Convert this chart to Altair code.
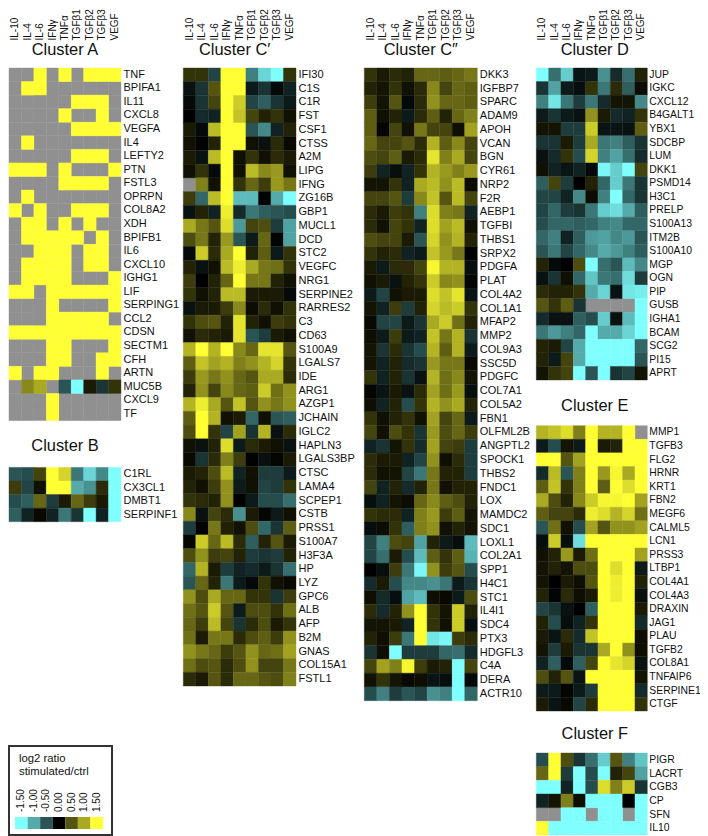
import altair as alt
import pandas as pd

N = None
Y = 1.5
C = -1.5
FONT = "Liberation Sans"
GRAY = "#909090"
cytokines = ["IL-10", "IL-4", "IL-6", "IFNγ", "TNFα", "TGFβ1", "TGFβ2", "TGFβ3", "VEGF"]

genes_a = ["TNF","BPIFA1","IL11","CXCL8","VEGFA","IL4","LEFTY2","PTN","FSTL3","OPRPN","COL8A2","XDH","BPIFB1","IL6","CXCL10","IGHG1","LIF","SERPING1","CCL2","CDSN","SECTM1","CFH","ARTN","MUC5B","CXCL9","TF"]
vals_a = [
[N,N,Y,N,Y,N,Y,Y,Y],[N,Y,Y,N,N,N,N,N,N],[N,N,N,N,N,Y,Y,Y,N],[N,N,N,N,Y,N,N,Y,N],[N,N,N,N,N,Y,Y,Y,Y],
[N,Y,N,N,N,N,N,N,N],[N,N,N,N,N,Y,Y,Y,N],[Y,Y,Y,N,Y,N,N,N,Y],[N,N,N,N,Y,Y,Y,Y,N],[N,Y,N,N,N,N,N,N,N],
[Y,N,Y,N,N,Y,Y,Y,N],[N,Y,Y,N,Y,N,Y,N,N],[N,Y,Y,Y,Y,Y,N,Y,N],[N,N,Y,Y,Y,N,Y,Y,N],[N,Y,Y,Y,Y,N,Y,Y,N],
[N,Y,Y,Y,Y,N,N,N,Y],[Y,Y,N,Y,Y,Y,Y,Y,Y],[N,N,N,Y,N,N,N,N,Y],[N,N,N,Y,Y,Y,Y,Y,N],[Y,Y,Y,Y,Y,Y,Y,Y,Y],
[N,N,N,Y,Y,N,N,N,Y],[N,N,N,Y,Y,N,N,Y,Y],[Y,N,Y,Y,N,N,N,Y,N],[N,.8,1.0,N,-.5,C,.15,-.3,.3],[N,N,N,Y,N,N,N,N,N],[N,N,N,Y,N,N,N,N,N],
]

genes_b = ["C1RL","CX3CL1","DMBT1","SERPINF1"]
vals_b = [
[-.5,-.45,.4,Y,1.25,-.7,-1.25,-.8,C],
[.35,-.4,.1,Y,Y,-1.0,-.85,.25,C],
[-.45,-.55,.6,-.35,.15,.6,.35,.15,C],
[-.55,-.2,.05,-.2,-.7,-.3,C,-.2,C],
]

genes_c1 = ["IFI30","C1S","C1R","FST","CSF1","CTSS","A2M","LIPG","IFNG","ZG16B","GBP1","MUCL1","DCD","STC2","VEGFC","NRG1","SERPINE2","RARRES2","C3","CD63","S100A9","LGALS7","IDE","ARG1","AZGP1","JCHAIN","IGLC2","HAPLN3","LGALS3BP","CTSC","LAMA4","SCPEP1","CSTB","PRSS1","S100A7","H3F3A","HP","LYZ","GPC6","ALB","AFP","B2M","GNAS","COL15A1","FSTL1"]
vals_c1 = [
[.3,.3,-.4,Y,Y,-.75,-1.25,C,.3],[-.1,-.3,.5,Y,Y,-.15,-.3,-.05,-.2],[-.05,-.3,.4,Y,1.2,-.4,-.55,-.3,-.15],
[0,-.25,-.2,Y,1.15,.4,.2,.3,.1],[.15,-.05,1.1,Y,Y,-.5,-.8,-.2,.2],[.1,.02,.2,Y,Y,.1,-.1,.25,.05],
[.15,-.1,1.1,Y,.1,.3,.1,.25,.15],[.1,.3,-.05,Y,.1,1.1,.8,.9,.1],[N,.75,.1,Y,.3,.6,.35,.9,.7],
[.35,-.6,1.1,Y,-1.1,-1.1,-.02,-1,C],[-.1,.2,-.2,1.4,-.25,-.7,-.55,-.5,-.45],[1.0,.7,.5,1.3,-.9,.4,.45,-.35,-.95],
[.45,.7,.2,.9,-.5,-.15,.6,-.03,-.95],[-.05,1.2,.25,1.0,Y,.2,.55,-.15,.3],[.2,-.1,.1,1.1,1.4,1.0,.7,.65,.3],
[.35,0,.2,.6,Y,.7,.7,.2,.1],[.3,.1,.2,1.1,1.1,.15,.15,.15,-.05],[-.1,.15,.15,.35,.8,.07,.25,.1,.3],
[.3,.45,.5,.2,1.35,.2,.1,.35,.3],[.1,.25,.2,.15,1.35,-.5,-.35,.15,.1],[1.05,Y,1.05,Y,.8,.6,1.35,1.35,.5],
[.55,1.15,.95,1.05,.75,.85,1.05,1.25,.3],[.35,.9,.7,.85,.6,.5,1.0,1.0,.25],[.2,.85,.4,.8,.6,.55,1.2,.65,.85],
[1.05,1.4,1.0,.5,1.15,.5,.85,.7,.85],[.55,Y,1.05,.1,.15,-.6,.1,-.5,-.55],[.45,Y,.3,-.4,.95,-.3,1.05,-.1,.25],
[.1,-.1,.2,1.3,-.15,.25,.15,.1,-.1],[.05,-.3,.25,.75,.35,.01,-.1,.03,.15],[.15,.2,.45,1.1,-.2,.1,-.35,-.35,-.15],
[.2,.1,.35,.85,-.15,.1,-.4,-.35,.3],[.3,.25,.2,.85,.01,-.15,-.45,-.45,-.65],[.8,-.1,.4,.25,-.85,.15,.03,-.15,.1],
[-.35,.01,.7,.2,.1,.45,-.6,-.3,.55],[.03,1.2,.6,1.1,.25,-.55,.2,.5,.15],[.45,.85,.35,.4,.2,-.35,-.3,-.35,.2],
[-.6,1.05,.15,-.35,-.2,-.25,-.15,-.3,-.65],[-.5,.6,.2,-.7,-.15,-.05,.3,.1,.05],[.85,.45,1.0,.6,.6,.3,.3,-.3,.35],
[.65,.5,1.2,.5,-.15,.45,.45,.3,.65],[.6,.35,1.1,.4,-.3,.25,.45,.15,.3],[.65,.15,.7,.7,.25,.45,.55,.35,.85],
[.85,.7,.6,.35,.5,.85,.6,.65,.95],[.65,.45,.5,.25,.45,.85,.4,.4,.7],[.25,.15,.5,.25,.6,.6,.5,.45,.75],
]

genes_c2 = ["DKK3","IGFBP7","SPARC","ADAM9","APOH","VCAN","BGN","CYR61","NRP2","F2R","AEBP1","TGFBI","THBS1","SRPX2","PDGFA","PLAT","COL4A2","COL1A1","MFAP2","MMP2","COL9A3","SSC5D","PDGFC","COL7A1","COL5A2","FBN1","OLFML2B","ANGPTL2","SPOCK1","THBS2","FNDC1","LOX","MAMDC2","SDC1","LOXL1","COL2A1","SPP1","H4C1","STC1","IL4I1","SDC4","PTX3","HDGFL3","C4A","DERA","ACTR10"]
vals_c2 = [
[.3,.15,.25,.2,.6,.6,.55,.6,.7],[.2,.12,.3,.1,.25,.8,.4,.6,.55],[.35,.12,.5,-.05,.25,.85,.6,.6,.55],
[.55,.1,.2,-.15,.25,.55,.2,.6,.75],[.55,.03,.4,.1,.7,.4,.4,.08,.95],[.6,.4,.4,.5,.25,1.05,.55,.8,.4],
[.45,.4,.55,.15,.25,1.35,.75,1.0,.4],[.35,-.2,-.08,-.2,.3,1.05,.9,.75,.9],[.12,.12,.3,-.2,1.0,1.1,.85,1.1,.07],
[.4,.4,.5,-.35,.8,1.15,.5,1.1,.4],[.25,.15,.35,.3,-.75,1.3,.75,.7,-.2],[.25,.1,.4,.3,-.2,1.3,.95,1.1,.1],
[.45,.4,.4,.15,-.5,1.25,.85,1.05,.2],[.3,.2,.25,-.2,-.15,1.15,.9,.7,0],[.15,-.15,.25,.25,.4,1.45,1.05,1.05,-.08],
[.1,.15,-.1,.2,.3,1.2,.8,.85,.03],[-.15,-.4,.1,.15,.15,1.3,1.15,1.35,-.12],[.12,-.2,.35,-.35,.2,1.25,1.1,1.2,.3],
[.05,-.4,-.4,-.15,-.3,1.0,1.2,.65,.2],[.08,-.15,.35,-.15,-.2,1.15,.7,1.05,-.3],[.12,-.3,.25,-.3,-.45,1.05,.55,1.05,-.15],
[.12,-.2,.2,-.25,-.3,.9,.7,.7,.05],[.3,-.2,.2,-.3,-.1,1.05,.65,.8,.12],[.03,-.12,.15,-.1,.25,.95,.65,.9,-.08],
[.08,-.2,.2,-.45,.3,1.05,.85,1.0,.2],[.3,.1,.2,.3,.1,.95,.4,.6,-.15],[.4,.1,.45,.3,-.3,.9,.45,.6,.35],
[-.2,-.3,.12,.3,-.25,.95,.4,.35,-.35],[.25,.15,.15,-.2,-.4,.85,.08,.25,-.35],[.25,.1,.12,-.4,-.7,.7,.2,.2,-.35],
[.4,-.2,.2,-.25,.2,.7,.1,.2,.2],[-.08,-.2,.12,.07,.6,.8,.55,.45,.2],[.3,.25,.25,-.2,.75,.9,.35,.55,.12],
[-.08,.07,.3,-.55,.75,.85,.1,.2,.12],[-.4,-.75,.45,.4,-.95,.2,-.15,-.08,-1.1],[-.4,-.65,.15,-.45,-1.1,.55,.3,.55,-1.05],
[0,-.08,.35,-.7,-1.45,.85,.35,.5,-.45],[-.25,.15,-.45,-.8,-.8,-.85,-.7,-.15,-.3],[.08,-.25,-.08,-.95,-1.1,.08,.05,-.15,.45],
[.25,-.25,.2,.85,Y,.3,.12,1.2,.2],[.12,.12,.15,-.2,Y,.3,.1,1.2,-.08],[.2,.08,.35,-.7,Y,-1.35,-1.45,.35,.25],
[-.3,.08,C,-.35,-.35,-.35,-.6,-.65,-.25],[.4,.95,.75,1.45,.35,.15,.2,C,.4],[.1,.3,.12,.05,.08,-.12,-.08,C,-.05],
[-.45,-.75,-.35,-.5,-.4,-.85,-.75,C,-.6],
]

genes_d = ["JUP","IGKC","CXCL12","B4GALT1","YBX1","SDCBP","LUM","DKK1","PSMD14","H3C1","PRELP","S100A13","ITM2B","S100A10","MGP","OGN","PIP","GUSB","IGHA1","BCAM","SCG2","PI15","APRT"]
vals_d = [
[C,-.65,-1.2,-.12,-.15,-.85,-.25,-.65,.2],[-.3,-.95,-.15,-.08,.3,-.7,.25,-.55,.07],[-.75,-1.35,-.7,-.35,-.7,-.25,.12,.12,-.8],
[-.15,-.3,-.15,-.1,.85,.15,-.25,-.2,.3],[.12,.12,-.35,-.35,1.2,-.12,-.12,-.1,.55],[-.3,-.3,.15,-.35,1.0,-.7,-.75,-.55,-.3],
[-.1,-.25,.3,-.45,1.25,-.75,-.95,-.65,-.25],[.1,-.2,-.12,-.2,-.05,-1.45,-1.2,C,.4],[-.55,.4,-.35,0,.2,-.6,-1.2,-.7,-.3],
[-.4,-.4,-.2,-.8,.07,-.75,C,-.6,-.3],[-.4,-.6,-.35,-.3,-.7,-1.2,-1.3,-1.0,-.55],[-.45,-.6,-.6,-.55,-.6,-.75,-.8,-.6,-.6],
[-.6,-.75,-.2,-.55,-.9,-.95,-.8,-.9,-.5],[-.5,-.7,-.4,-.6,-.8,-1.0,-.9,-.75,-.55],[.2,-.05,0,.45,C,-.65,-.5,-1.1,-.8],
[-.1,-.3,.1,-.6,-1.15,-.7,-.65,-1.3,-.35],[.25,.2,.2,.3,-1.0,-1.25,-.1,-1.35,-1.4],[.5,.3,.55,-.3,N,N,N,N,C],
[-.25,-.1,-.1,-.55,-.45,-1.2,-.1,-1.1,C],[-.7,-.9,-.75,-.6,C,-1.0,-1.0,-1.25,C],[.2,.15,-.4,-1.0,C,C,C,C,-.6],
[.2,-.15,.4,-1.0,C,C,C,C,-.5],[.12,.3,.4,C,-.5,C,-.3,-.4,.12],
]

genes_e = ["MMP1","TGFB3","FLG2","HRNR","KRT1","FBN2","MEGF6","CALML5","LCN1","PRSS3","LTBP1","COL4A1","COL4A3","DRAXIN","JAG1","PLAU","TGFB2","COL8A1","TNFAIP6","SERPINE1","CTGF"]
vals_e = [
[1.05,1.15,1.3,.75,Y,1.05,1.05,Y,N],[-.15,-.45,.12,-.15,Y,.15,.2,Y,Y],[Y,Y,.5,.95,Y,Y,Y,Y,Y],
[-.25,1.1,-.5,.75,Y,.9,1.45,1.0,Y],[.55,1.15,.3,.75,Y,.55,Y,1.3,Y],[1.0,.45,.2,.8,1.2,1.45,1.45,Y,.95],
[.55,.4,.4,.25,1.4,1.3,1.05,1.25,.65],[-.5,.65,.1,-.45,.95,.5,.85,.85,.95],[-.08,1.2,-.08,-1.3,Y,Y,Y,Y,Y],
[.1,.2,.9,.15,.65,Y,Y,Y,.95],[.12,.2,.12,.45,.45,Y,1.3,Y,-.15],[.12,0,.15,.08,.5,Y,1.4,Y,.2],
[.2,-.03,.25,.08,.15,Y,1.4,Y,-.1],[-.4,-.3,-.1,0,-.55,Y,Y,Y,.15],[.2,-.45,-.08,-.2,.3,Y,Y,Y,-.25],
[.15,-.12,.25,-.25,1.15,Y,Y,Y,.08],[.12,-.35,.15,-.3,-.3,1.0,Y,.85,.08],[-.2,-.55,-.05,-.55,.4,Y,1.35,1.25,-.1],
[.45,.2,.5,-.12,Y,Y,Y,Y,.12],[-.15,-.15,.03,-.15,-.35,Y,Y,Y,-.25],[.15,-.12,.05,-.4,.25,Y,Y,Y,.3],
]

genes_f = ["PIGR","LACRT","CGB3","CP","SFN","IL10"]
vals_f = [
[-.45,Y,.45,-.3,-.65,-1.2,.5,-.75,-1.15],[.6,Y,-.35,C,-.45,C,.2,.4,-.95],[C,C,-.2,C,-.45,1.3,.75,1.2,-.3],
[-.2,.12,.75,.08,C,C,C,0,C],[N,N,C,C,N,C,C,N,C],[Y,C,C,C,C,C,C,C,C],
]

legend_values = [-1.5, -1.0, -0.5, 0.0, 0.5, 1.0, 1.5]
legend_labels = ["-1.50", "-1.00", "-0.50", "0.00", "0.50", "1.00", "1.50"]

color_scale = alt.Scale(domain=[-1.5, 0, 1.5], range=["#80FFFF", "#000000", "#FFFF33"],
                        clamp=True, interpolate="rgb")


def panel(title, genes, rows, w, h, title_dx=0, title_y=-18, header=True, gene_size=11, gene_pad=2):
    df = pd.DataFrame([{"gene": g, "cyt": c, "v": v}
                       for g, row in zip(genes, rows) for c, v in zip(cytokines, row)])
    df["v"] = pd.to_numeric(df["v"])
    xe = alt.X("cyt:N", sort=cytokines,
               scale=alt.Scale(domain=cytokines, paddingInner=0, paddingOuter=0),
               axis=alt.Axis(orient="top", title=None, ticks=False, domain=False, labelAngle=270,
                             labels=header,
                             labelAlign="left", labelBaseline="middle", labelPadding=28,
                             labelFontSize=10, labelFont=FONT, labelColor="#111", labelOverlap=False))
    ye = alt.Y("gene:N", sort=genes,
               scale=alt.Scale(domain=genes, paddingInner=0, paddingOuter=0),
               axis=alt.Axis(orient="right", title=None, ticks=False, domain=False, labelPadding=gene_pad,
                             labelFontSize=gene_size, labelFont=FONT, labelColor="#111", labelOverlap=False))
    missing = alt.Chart(df[df["v"].isna()][["gene", "cyt"]]).mark_rect(
        color=GRAY, stroke=GRAY, strokeWidth=0.4).encode(x=xe, y=ye)
    cells = alt.Chart(df[df["v"].notna()]).mark_rect(strokeWidth=0.4).encode(
        x=xe, y=ye,
        color=alt.Color("v:Q", scale=color_scale, legend=None),
        stroke=alt.Stroke("v:Q", scale=color_scale, legend=None),
    )
    label = alt.Chart(pd.DataFrame({"t": [title]})).mark_text(
        font=FONT, fontSize=16.4, color="#111", align="center", baseline="middle"
    ).encode(x=alt.value(w / 2 + title_dx), y=alt.value(title_y), text="t:N")
    return alt.layer(missing, cells, label).properties(width=w, height=h)


legend_df = pd.DataFrame({"v": legend_values, "lab": legend_labels, "row": ["swatch"] * 7})
lx = alt.X("lab:N", sort=legend_labels, axis=None,
           scale=alt.Scale(domain=legend_labels, range=[6, 94], paddingInner=0, paddingOuter=0))
swatch = alt.Chart(legend_df).mark_rect().encode(
    x=lx,
    y=alt.Y("row:N", axis=None, scale=alt.Scale(domain=["swatch"], range=[71, 83], paddingInner=0, paddingOuter=0)),
    color=alt.Color("v:Q", scale=color_scale, legend=None),
)
ticks = alt.Chart(legend_df).mark_text(font=FONT, fontSize=10, angle=270, align="left", baseline="middle", color="#111").encode(
    x=lx, y=alt.value(66), text="lab:N")
head1 = alt.Chart(pd.DataFrame({"t": ["log2 ratio"]})).mark_text(font=FONT, fontSize=11.3, align="left", color="#111").encode(
    x=alt.value(10), y=alt.value(13), text="t:N")
head2 = alt.Chart(pd.DataFrame({"t": ["stimulated/ctrl"]})).mark_text(font=FONT, fontSize=11.3, align="left", color="#111").encode(
    x=alt.value(10), y=alt.value(26), text="t:N")
legend = alt.layer(swatch, ticks, head1, head2).properties(
    width=103, height=89, view=alt.ViewConfig(stroke="#333333", strokeWidth=2, fill="white"))

D_KW = dict(gene_size=10.4, gene_pad=1.5, title_dx=3)
A = panel("Cluster A", genes_a, vals_a, 112, 352.6)
B = panel("Cluster B", genes_b, vals_b, 112, 54.3, title_y=-21, header=False)
C1 = panel("Cluster C′", genes_c1, vals_c1, 112.7, 618, title_dx=-5)
C2 = panel("Cluster C″", genes_c2, vals_c2, 113, 632.7)
D = panel("Cluster D", genes_d, vals_d, 111, 312, **D_KW)
E = panel("Cluster E", genes_e, vals_e, 111, 285.3, title_y=-20, header=False, **D_KW)
F = panel("Cluster F", genes_f, vals_f, 111, 82, title_y=-19, header=False, **D_KW)

col1 = alt.vconcat(alt.vconcat(A, B, spacing=46.4, bounds="flush"), legend, spacing=678, bounds="flush")
col4 = alt.vconcat(D, alt.vconcat(E, F, spacing=41.3, bounds="flush"), spacing=45.7, bounds="flush")
right = alt.hconcat(C2, col4, spacing=59, bounds="flush")
mid = alt.hconcat(C1, right, spacing=68, bounds="flush")
chart = alt.hconcat(col1, mid, spacing=174.3, bounds="flush").properties(
    autosize=alt.AutoSizeParams(type="none"),
    padding={"left": 1, "top": 60, "right": 691, "bottom": 768},
).configure_view(stroke=None).configure_text(font=FONT)

chart.save("out.html", embed_options={"renderer": "svg", "actions": False})
